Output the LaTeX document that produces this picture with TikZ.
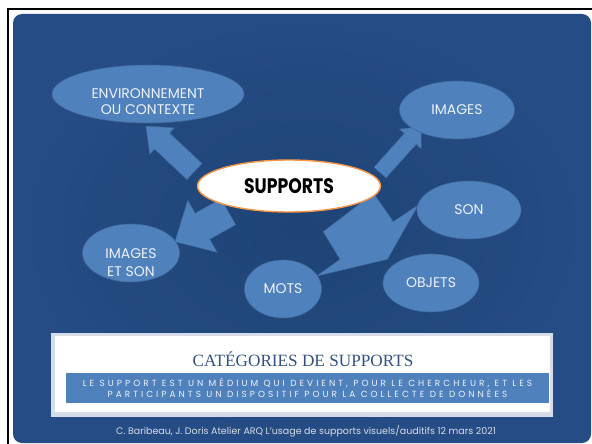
\documentclass[tikz,border=0pt]{standalone}
\usepackage{fontspec}
\usepackage{graphicx}
\usepackage{tikz}
\usetikzlibrary{calc,shapes.geometric}
\setmainfont{Poppins}
\newfontfamily\titlefont{Liberation Serif}
\newfontfamily\bandfont{Poppins}[LetterSpace=34]

\definecolor{slidedark}{HTML}{1E4475}
\definecolor{slideedge}{HTML}{254C84}
\definecolor{bubblue}{HTML}{4F81BD}
\definecolor{bubedge}{HTML}{3F6A9C}
\definecolor{suporange}{HTML}{F79646}
\definecolor{paneltitle}{HTML}{34527F}
\definecolor{panelrim}{HTML}{D6DDE8}
\definecolor{softwhite}{HTML}{EEF2F8}

\pgfdeclarelayer{back}
\pgfdeclarelayer{arrows}
\pgfsetlayers{back,arrows,main}

% block arrow: tail, tip, half shaft, half head, head length
\newcommand{\blockarrow}[5]{%
  \coordinate (hb) at ($(#2)!#5!(#1)$);
  \filldraw[arrowshape] ($(#1)!#3!90:(#2)$) -- ($(hb)!#3!90:(#2)$)
    -- ($(hb)!#4!90:(#2)$) -- (#2) -- ($(hb)!#4!-90:(#2)$)
    -- ($(hb)!#3!-90:(#2)$) -- ($(#1)!#3!-90:(#2)$) -- cycle;
}

\begin{document}
\begin{tikzpicture}[
    x=1pt, y=-1pt,                       % pixel grid, y downwards
    bubble/.style={
        ellipse,
        fill=bubblue,
        draw=bubedge,
        line width=0.6pt,
        inner sep=0pt,
        minimum height=58pt,
        text=softwhite,
        font=\fontsize{14}{16}\selectfont
    },
    bubtext/.style={align=center, text=softwhite},
    arrowshape/.style={fill=bubblue, draw=bubedge, line width=0.5pt},
    hub/.style={
        ellipse,
        fill=white,
        draw=suporange,
        line width=1.4pt,
        inner sep=0pt,
        minimum width=183pt,
        minimum height=52pt,
        font=\bfseries\fontsize{21}{24}\selectfont
    }
]

\useasboundingbox (0,0) rectangle (592,444);

% slide background
\begin{pgfonlayer}{back}
\fill[white] (0,0) rectangle (592,444);
\draw[line width=2pt] (8,444) -- (8,9) -- (592,9);
\shade[rounded corners=9pt, inner color=slidedark, outer color=slideedge]
    (13,14) rectangle (591,443);
\end{pgfonlayer}

% bubbles
\node[bubble, minimum width=192pt,
      label={[bubtext, yshift=-8pt, font=\fontsize{14}{16}\selectfont]center:ENVIRONNEMENT\\OU CONTEXTE}]
    (env) at (148,94) {};
\node[bubble, minimum width=115pt] (img) at (457,110) {IMAGES};
\node[bubble, minimum width=104pt] (son) at (469,210) {SON};
\node[bubble, minimum width=96pt] (obj) at (431,283) {OBJETS};
\node[bubble, minimum width=77pt] (mots) at (283,289) {MOTS};
\node[bubble, minimum width=97pt,
      label={[bubtext, yshift=-9.5pt, font=\fontsize{14}{18}\selectfont]center:IMAGES\\ET SON}]
    (imgson) at (131,253) {};

\node[hub] (sup) at (289,186) {\scalebox{0.82}[1]{SUPPORTS}};

% arrow ends
\coordinate (envtail) at (194.5,171.5);
\coordinate (envtip) at (146,126);
\coordinate (imgtail) at (380,172.5);
\coordinate (imgtip) at (421,127);
\coordinate (istail) at (228.3,211.7);
\coordinate (istip) at (175,241.7);

\begin{pgfonlayer}{arrows}
\blockarrow{envtail}{envtip}{11pt}{18pt}{22pt}
\blockarrow{imgtail}{imgtip}{8pt}{14.7pt}{16pt}
\blockarrow{istail}{istip}{14.9pt}{29.9pt}{31.5pt}
% wide arrow towards mots and objets
\filldraw[arrowshape] (366,199) -- (323.3,231.7) -- (340,259.3) -- (316.7,276)
    -- (387.3,259.3) -- (418.3,205) -- (393.3,221.7) -- (374,194) -- cycle;
\end{pgfonlayer}

% bottom panel
\fill[panelrim] (51,333) rectangle (553,417);
\fill[white] (55,336) rectangle (550,412);
\node[font=\titlefont\fontsize{17.2}{19}\selectfont, text=paneltitle]
    (title) at (303,359) {CATÉGORIES DE SUPPORTS};
\node[fill=bubblue, minimum width=483pt, minimum height=30pt, inner sep=0pt,
      align=center, text=softwhite, font=\bandfont\fontsize{8.9}{9.2}\selectfont]
    (band) at (307.5,388) {LE SUPPORT EST UN MÉDIUM QUI DEVIENT, POUR LE CHERCHEUR, ET LES\\
    PARTICIPANTS UN DISPOSITIF POUR LA COLLECTE DE DONNÉES};

\node[text=panelrim, font=\fontsize{9.5}{11}\selectfont]
    (credit) at (306,431) {C. Baribeau, J. Doris Atelier ARQ L'usage de supports visuels/auditifs 12 mars 2021};

\end{tikzpicture}
\end{document}
